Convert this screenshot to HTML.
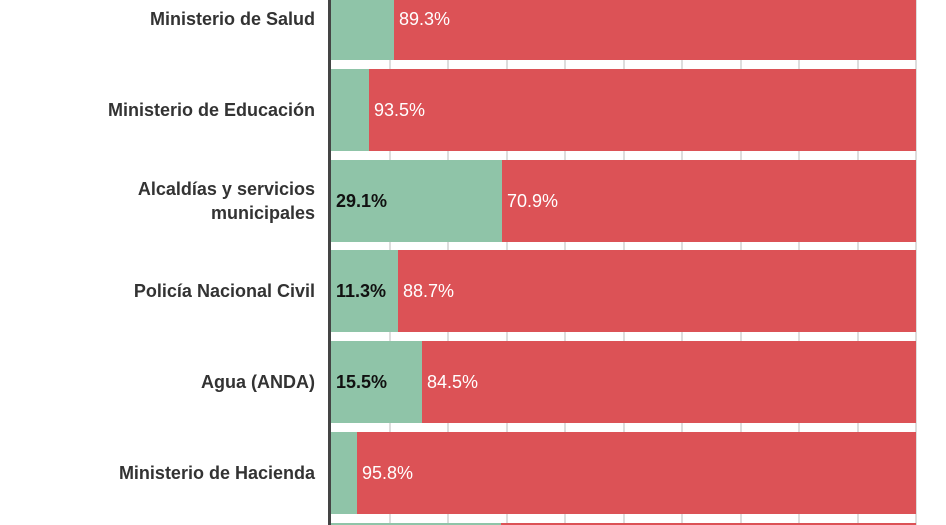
<!DOCTYPE html><html style="overflow:hidden;height:525px"><head><style>
body{margin:0;width:946px;height:525px;background:#fff;overflow:hidden;font-family:"Liberation Sans",sans-serif}
#w{position:relative;width:946px;height:525px;overflow:hidden}
.g{position:absolute;top:0;height:525px;width:2px;background:#ddd}
.ax{position:absolute;left:328px;top:0;width:3px;height:525px;background:#444}
.row{position:absolute;left:331px;width:585px;height:82px;background:#dc5256;overflow:hidden}
.gr{position:absolute;left:0;top:0;height:82px;background:#8fc4a8}
.v{position:absolute;top:0;line-height:82px;font-size:18px;color:#fff;padding-left:5px}
.vb{color:#111;font-weight:bold}
.lab{position:absolute;left:0;font-size:18px;color:#333;font-weight:bold;text-align:right;line-height:24px;display:flex;align-items:center;justify-content:flex-end;height:82px;width:315px}
</style></head><body><div id="w">
<div class="g" style="left:389px"></div><div class="g" style="left:447px"></div><div class="g" style="left:506px"></div><div class="g" style="left:564px"></div><div class="g" style="left:623px"></div><div class="g" style="left:681px"></div><div class="g" style="left:740px"></div><div class="g" style="left:798px"></div><div class="g" style="left:857px"></div><div class="g" style="left:915px"></div>

<div class="row" style="top:0;height:60px"><div class="gr" style="width:63px"></div><div class="v" style="left:63px;top:-22px">89.3%</div></div>
<div class="row" style="top:69px"><div class="gr" style="width:38px"></div><div class="v" style="left:38px">93.5%</div></div>
<div class="row" style="top:160px"><div class="gr" style="width:171px"></div><div class="v vb" style="left:0">29.1%</div><div class="v" style="left:171px">70.9%</div></div>
<div class="row" style="top:250px"><div class="gr" style="width:67px"></div><div class="v vb" style="left:0">11.3%</div><div class="v" style="left:67px">88.7%</div></div>
<div class="row" style="top:341px"><div class="gr" style="width:91px"></div><div class="v vb" style="left:0">15.5%</div><div class="v" style="left:91px">84.5%</div></div>
<div class="row" style="top:432px"><div class="gr" style="width:26px"></div><div class="v" style="left:26px">95.8%</div></div>
<div class="row" style="top:523px;height:2px"><div class="gr" style="width:170px;height:2px"></div></div>
<div class="ax"></div>

<div class="lab" style="top:0;height:38px">Ministerio de Salud</div>
<div class="lab" style="top:69px">Ministerio de Educación</div>
<div class="lab" style="top:160px">Alcaldías y servicios<br>municipales</div>
<div class="lab" style="top:250px">Policía Nacional Civil</div>
<div class="lab" style="top:341px">Agua (ANDA)</div>
<div class="lab" style="top:432px">Ministerio de Hacienda</div>
</div></body></html>
